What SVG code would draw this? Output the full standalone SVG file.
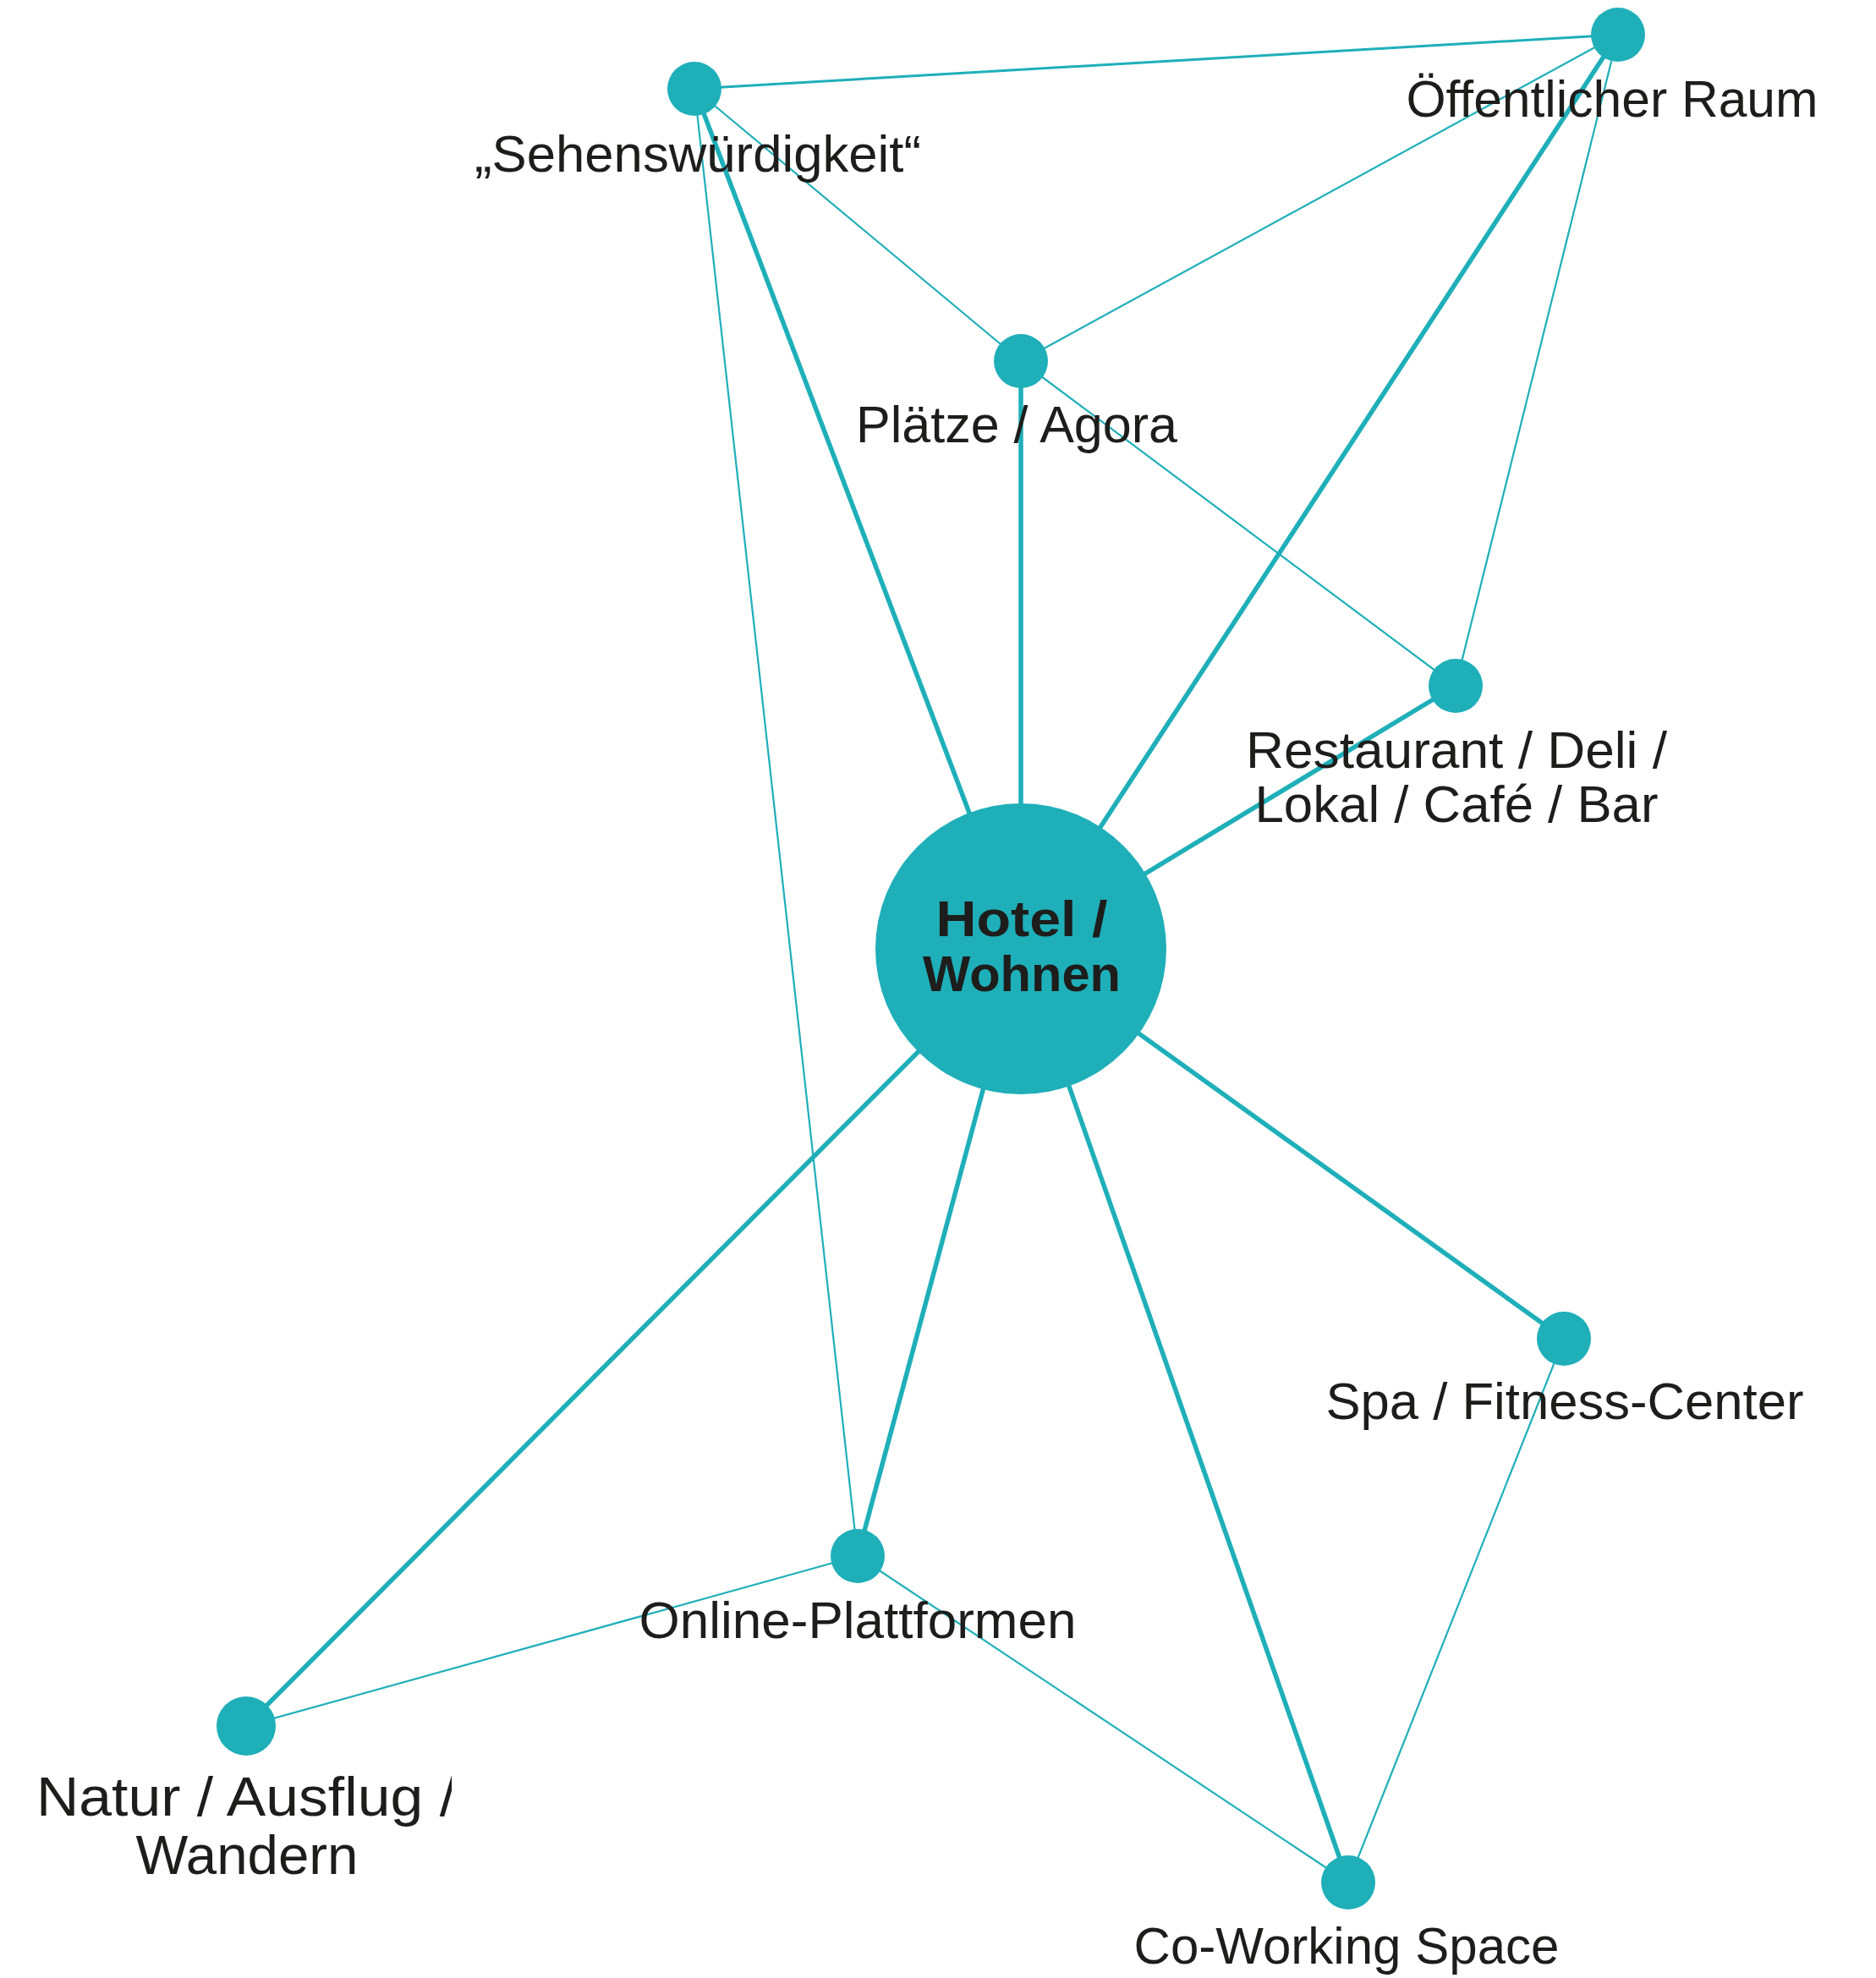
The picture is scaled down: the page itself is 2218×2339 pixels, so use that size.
<svg xmlns="http://www.w3.org/2000/svg" width="2218" height="2339" viewBox="0 0 2218 2339">
<style>
.bg{fill:#ffffff}
.strong{stroke:#1fafb9;stroke-width:5.5;fill:none}
.weak{stroke:#1fafb9;stroke-width:2.2;fill:none}
.mid{stroke:#1fafb9;stroke-width:3;fill:none}
.node{fill:#1fafb9}
.lbl{font-family:"Liberation Sans","Arial",sans-serif;font-size:61px;fill:#1d1d1b;text-anchor:middle}
.big{font-size:64px}
.hub{font-family:"Liberation Sans","Arial",sans-serif;font-size:60px;font-weight:bold;fill:#1d1d1b;text-anchor:middle}
</style>
<defs>
<clipPath id="clipNatur"><rect x="0" y="2080" width="534" height="90"/></clipPath>
</defs>
<rect class="bg" x="0" y="0" width="2218" height="2339"/>
<g id="connectors">
<line class="mid" x1="821" y1="105" x2="1913" y2="41"/>
<line class="weak" x1="821" y1="105" x2="1207" y2="427"/>
<line class="weak" x1="821" y1="105" x2="1014" y2="1840"/>
<line class="weak" x1="1207" y1="427" x2="1913" y2="41"/>
<line class="weak" x1="1207" y1="427" x2="1721" y2="811"/>
<line class="weak" x1="1913" y1="41" x2="1721" y2="811"/>
<line class="weak" x1="1849" y1="1583" x2="1594" y2="2226"/>
<line class="weak" x1="1014" y1="1840" x2="1594" y2="2226"/>
<line class="weak" x1="1014" y1="1840" x2="291" y2="2041"/>
<line class="strong" x1="1207" y1="1122" x2="821" y2="105"/>
<line class="strong" x1="1207" y1="1122" x2="1207" y2="427"/>
<line class="strong" x1="1207" y1="1122" x2="1913" y2="41"/>
<line class="strong" x1="1207" y1="1122" x2="1721" y2="811"/>
<line class="strong" x1="1207" y1="1122" x2="1849" y2="1583"/>
<line class="strong" x1="1207" y1="1122" x2="1594" y2="2226"/>
<line class="strong" x1="1207" y1="1122" x2="1014" y2="1840"/>
<line class="strong" x1="1207" y1="1122" x2="291" y2="2041"/>
</g>
<g id="node-sehenswuerdigkeit">
<circle class="node" cx="821" cy="105" r="32"/>
<text class="lbl" x="825" y="203" textLength="528" lengthAdjust="spacingAndGlyphs">„Sehenswürdigkeit“</text>
</g>
<g id="node-oeffentlicher-raum">
<circle class="node" cx="1913" cy="41" r="32"/>
<text class="lbl" x="1906" y="138" textLength="487" lengthAdjust="spacingAndGlyphs">Öffentlicher Raum</text>
</g>
<g id="node-plaetze">
<circle class="node" cx="1207" cy="427" r="32"/>
<text class="lbl" x="1202" y="523" textLength="380" lengthAdjust="spacingAndGlyphs">Plätze / Agora</text>
</g>
<g id="node-restaurant">
<circle class="node" cx="1721" cy="811" r="32"/>
<text class="lbl" x="1722" y="908" textLength="498" lengthAdjust="spacingAndGlyphs">Restaurant / Deli /</text>
<text class="lbl" x="1722" y="972" textLength="477" lengthAdjust="spacingAndGlyphs">Lokal / Café / Bar</text>
</g>
<g id="node-hotel">
<circle class="node" cx="1207" cy="1122" r="172"/>
<text class="hub" x="1208" y="1107" textLength="203" lengthAdjust="spacingAndGlyphs">Hotel /</text>
<text class="hub" x="1208" y="1172" textLength="234" lengthAdjust="spacingAndGlyphs">Wohnen</text>
</g>
<g id="node-spa">
<circle class="node" cx="1849" cy="1583" r="32"/>
<text class="lbl" x="1850" y="1678" textLength="565" lengthAdjust="spacingAndGlyphs">Spa / Fitness-Center</text>
</g>
<g id="node-online">
<circle class="node" cx="1014" cy="1840" r="32"/>
<text class="lbl" x="1014" y="1937" textLength="517" lengthAdjust="spacingAndGlyphs">Online-Plattformen</text>
</g>
<g id="node-natur">
<circle class="node" cx="291" cy="2041" r="35"/>
<text class="lbl big" x="291" y="2147" textLength="496" lengthAdjust="spacingAndGlyphs" clip-path="url(#clipNatur)">Natur / Ausflug /</text>
<text class="lbl big" x="292" y="2216" textLength="263" lengthAdjust="spacingAndGlyphs">Wandern</text>
</g>
<g id="node-coworking">
<circle class="node" cx="1594" cy="2226" r="32"/>
<text class="lbl" x="1592" y="2322" textLength="503" lengthAdjust="spacingAndGlyphs">Co-Working Space</text>
</g>
</svg>
